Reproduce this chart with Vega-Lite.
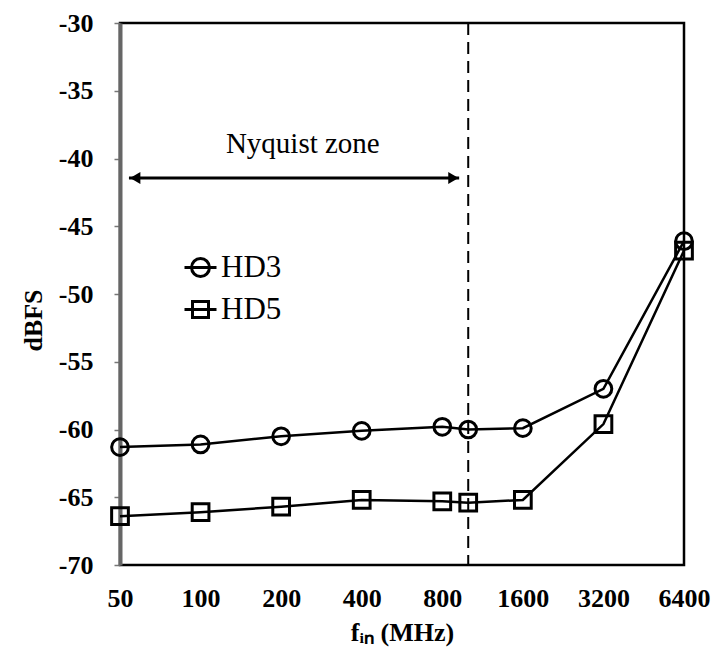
{
  "$schema": "https://vega.github.io/schema/vega-lite/v6.json",
  "width": 564,
  "height": 542,
  "autosize": "none",
  "padding": {"left": 120, "top": 23, "right": 33, "bottom": 99},
  "background": "white",
  "config": {
    "font": "Liberation Serif",
    "view": {"stroke": "black", "strokeWidth": 2.5}
  },
  "datasets": {
    "series": [
      {"series": "HD3", "f": 50, "dbfs": -61.3},
      {"series": "HD3", "f": 100, "dbfs": -61.1},
      {"series": "HD3", "f": 200, "dbfs": -60.5},
      {"series": "HD3", "f": 400, "dbfs": -60.1},
      {"series": "HD3", "f": 800, "dbfs": -59.8},
      {"series": "HD3", "f": 1000, "dbfs": -60.0},
      {"series": "HD3", "f": 1600, "dbfs": -59.9},
      {"series": "HD3", "f": 3200, "dbfs": -57.0},
      {"series": "HD3", "f": 6400, "dbfs": -46.1},
      {"series": "HD5", "f": 50, "dbfs": -66.4},
      {"series": "HD5", "f": 100, "dbfs": -66.1},
      {"series": "HD5", "f": 200, "dbfs": -65.7},
      {"series": "HD5", "f": 400, "dbfs": -65.2},
      {"series": "HD5", "f": 800, "dbfs": -65.3},
      {"series": "HD5", "f": 1000, "dbfs": -65.4},
      {"series": "HD5", "f": 1600, "dbfs": -65.2},
      {"series": "HD5", "f": 3200, "dbfs": -59.6},
      {"series": "HD5", "f": 6400, "dbfs": -46.8}
    ],
    "nyquist": [{"f": 1000}],
    "arrow": [{"f": 54, "f2": 925, "dbfs": -41.44}],
    "heads": [
      {"f": 57, "dbfs": -41.44, "head": "triangle-left"},
      {"f": 880, "dbfs": -41.44, "head": "triangle-right"}
    ],
    "note": [{"f": 241, "dbfs": -38.9, "text": "Nyquist zone"}]
  },
  "layer": [
    {
      "data": {"name": "nyquist"},
      "mark": {"type": "rule", "stroke": "black", "strokeWidth": 2, "strokeDash": [12, 7]},
      "encoding": {
        "x": {
          "field": "f", "type": "quantitative",
          "scale": {"type": "log", "base": 2, "domain": [50, 6400], "nice": false},
          "axis": {
            "values": [50, 100, 200, 400, 800, 1600, 3200, 6400],
            "format": "d",
            "title": "fᵢₙ (MHz)",
            "titleFont": "Liberation Serif",
            "titleFontSize": 26,
            "titleFontWeight": "bold",
            "titleColor": "black",
            "titlePadding": 8,
            "labelFont": "Liberation Serif",
            "labelFontSize": 26,
            "labelFontWeight": "bold",
            "labelColor": "black",
            "labelPadding": 20,
            "labelFlush": false,
            "labelOverlap": false,
            "ticks": false,
            "tickSize": 0,
            "domain": false,
            "grid": false
          }
        }
      }
    },
    {
      "data": {"name": "arrow"},
      "mark": {"type": "rule", "stroke": "black", "strokeWidth": 3},
      "encoding": {
        "x": {"field": "f", "type": "quantitative"},
        "x2": {"field": "f2"},
        "y": {
          "field": "dbfs", "type": "quantitative",
          "scale": {"domain": [-70, -30], "nice": false, "zero": false},
          "axis": {
            "values": [-70, -65, -60, -55, -50, -45, -40, -35, -30],
            "labelExpr": "'-' + abs(datum.value)",
            "title": "dBFS",
            "titleFont": "Liberation Serif",
            "titleFontSize": 26,
            "titleFontWeight": "bold",
            "titleColor": "black",
            "titlePadding": 12,
            "titleY": 297,
            "labelFont": "Liberation Serif",
            "labelFontSize": 26,
            "labelFontWeight": "bold",
            "labelColor": "black",
            "labelPadding": 21,
            "labelFlush": false,
            "tickSize": 6,
            "tickColor": "#777777",
            "tickWidth": 1.5,
            "domainColor": "#666666",
            "domainWidth": 4,
            "grid": false
          }
        }
      }
    },
    {
      "data": {"name": "heads"},
      "mark": {"type": "point", "filled": true, "color": "black", "size": 140, "opacity": 1},
      "encoding": {
        "x": {"field": "f", "type": "quantitative"},
        "y": {"field": "dbfs", "type": "quantitative"},
        "shape": {"field": "head", "type": "nominal", "scale": {"domain": ["triangle-left", "triangle-right"], "range": ["triangle-left", "triangle-right"]}, "legend": null}
      }
    },
    {
      "data": {"name": "note"},
      "mark": {"type": "text", "font": "Liberation Serif", "fontSize": 29, "color": "black", "align": "center", "baseline": "middle"},
      "encoding": {
        "x": {"field": "f", "type": "quantitative"},
        "y": {"field": "dbfs", "type": "quantitative"},
        "text": {"field": "text"}
      }
    },
    {
      "data": {"name": "series"},
      "mark": {"type": "line", "stroke": "black", "strokeWidth": 2.5},
      "encoding": {
        "x": {"field": "f", "type": "quantitative"},
        "y": {"field": "dbfs", "type": "quantitative"},
        "detail": {"field": "series", "type": "nominal"}
      }
    },
    {
      "data": {"name": "series"},
      "mark": {"type": "point", "filled": false, "stroke": "black", "strokeWidth": 3, "size": 280, "opacity": 1},
      "encoding": {
        "x": {"field": "f", "type": "quantitative"},
        "y": {"field": "dbfs", "type": "quantitative"},
        "shape": {"field": "series", "type": "nominal", "scale": {"domain": ["HD3", "HD5"], "range": ["circle", "square"]}, "legend": null}
      }
    },
    {
      "data": {"name": "series"},
      "mark": {"type": "point", "filled": false, "stroke": "black", "strokeWidth": 2.5, "opacity": 0},
      "encoding": {
        "x": {"field": "f", "type": "quantitative"},
        "y": {"field": "dbfs", "type": "quantitative"},
        "shape": {
          "field": "series", "type": "nominal",
          "scale": {"domain": ["HD3", "HD5"], "range": ["M-1,0H1M-0.56,0A0.56,0.56 0 1,0 0.56,0A0.56,0.56 0 1,0 -0.56,0", "M-1,0H1M-0.5,-0.5H0.5V0.5H-0.5Z"]},
          "legend": {
            "orient": "none",
            "legendX": 63,
            "legendY": 227,
            "title": null,
            "padding": 0,
            "symbolSize": 1024,
            "symbolStrokeWidth": 3,
            "symbolStrokeColor": "black",
            "symbolFillColor": "transparent",
            "symbolOpacity": 1,
            "labelFont": "Liberation Serif",
            "labelFontSize": 31,
            "labelColor": "black",
            "labelOffset": 3,
            "rowPadding": 9
          }
        }
      }
    }
  ],
  "resolve": {"scale": {"shape": "independent"}, "legend": {"shape": "independent"}}
}
